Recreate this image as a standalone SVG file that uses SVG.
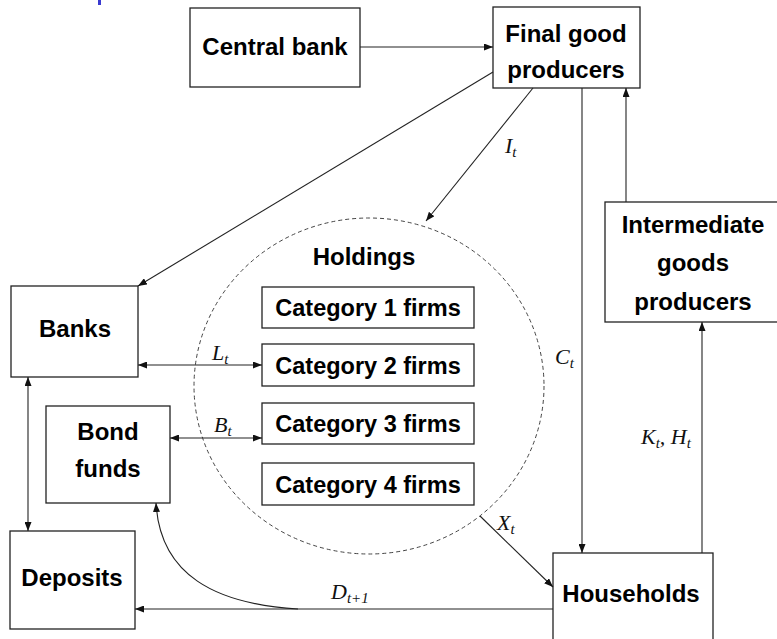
<svg xmlns="http://www.w3.org/2000/svg" width="777" height="639" viewBox="0 0 777 639">
<style>
.box{fill:#fff;stroke:#222;stroke-width:1.3}
.lbl{font-family:"Liberation Sans",Arial,sans-serif;font-weight:bold;font-size:24px;fill:#000;text-anchor:middle}
.cat{font-family:"Liberation Sans",Arial,sans-serif;font-weight:bold;font-size:23.5px;fill:#000;text-anchor:middle}
.math{font-family:"Liberation Serif","Times New Roman",serif;font-style:italic;font-size:22px;fill:#111}
.sub{font-size:15px}
.ln{fill:none;stroke:#222;stroke-width:1.1}
.arr{marker-end:url(#ah)}
.dbl{marker-start:url(#ah);marker-end:url(#ah)}
</style>
<defs>
<marker id="ah" markerUnits="userSpaceOnUse" markerWidth="9" markerHeight="7" refX="9" refY="3.5" orient="auto-start-reverse">
<path d="M0,0 L9,3.5 L0,7 z" fill="#111"/>
</marker>
</defs>
<rect x="98" y="0" width="3" height="5" fill="#3a3ad0"/>
<g id="holdings">
<ellipse cx="369" cy="386" rx="175" ry="168" fill="none" stroke="#444" stroke-width="1" stroke-dasharray="4 3"/>
<text class="lbl" x="364" y="265">Holdings</text>
</g>
<g id="central-bank"><rect class="box" x="190" y="8" width="170" height="79"/><text class="lbl" x="275" y="55">Central bank</text></g>
<g id="final-good"><rect class="box" x="493" y="7" width="147" height="81"/><text class="lbl" x="566" y="42">Final good</text><text class="lbl" x="566" y="78">producers</text></g>
<g id="intermediate"><rect class="box" x="605" y="202" width="176" height="120"/><text class="lbl" x="693" y="233">Intermediate</text><text class="lbl" x="693" y="271">goods</text><text class="lbl" x="693" y="310">producers</text></g>
<g id="banks"><rect class="box" x="11" y="286" width="127" height="91"/><text class="lbl" x="75" y="337">Banks</text></g>
<g id="bond-funds"><rect class="box" x="46" y="406" width="124" height="97"/><text class="lbl" x="108" y="440">Bond</text><text class="lbl" x="108" y="477">funds</text></g>
<g id="deposits"><rect class="box" x="10" y="531" width="125" height="98"/><text class="lbl" x="72" y="586">Deposits</text></g>
<g id="households"><rect class="box" x="553" y="553" width="160" height="95"/><text class="lbl" x="631" y="602">Households</text></g>
<g id="cat1"><rect class="box" x="262" y="287" width="212" height="41"/><text class="cat" x="368" y="316">Category 1 firms</text></g>
<g id="cat2"><rect class="box" x="262" y="344" width="212" height="42"/><text class="cat" x="368" y="374">Category 2 firms</text></g>
<g id="cat3"><rect class="box" x="262" y="403" width="212" height="41"/><text class="cat" x="368" y="432">Category 3 firms</text></g>
<g id="cat4"><rect class="box" x="262" y="463" width="212" height="42"/><text class="cat" x="368" y="493">Category 4 firms</text></g>
<g id="connectors">
<path class="ln arr" d="M360,47 H493"/>
<path class="ln arr" d="M493,72 L138,286"/>
<path class="ln arr" d="M533,88 L426,221"/>
<path class="ln arr" d="M582,88 V553"/>
<path class="ln arr" d="M626,202 V88"/>
<path class="ln arr" d="M702,553 V322"/>
<path class="ln dbl" d="M138,365 H262"/>
<path class="ln dbl" d="M170,438 H262"/>
<path class="ln dbl" d="M28,377 V531"/>
<path class="ln arr" d="M480,516 L553,587"/>
<path class="ln arr" d="M553,609 H135"/>
<path class="ln arr" d="M298,609 C215,604 160,575 156,503"/>
<text class="math" x="505" y="153">I<tspan class="sub" dy="4">t</tspan></text>
<text class="math" x="212" y="360">L<tspan class="sub" dy="4">t</tspan></text>
<text class="math" x="214" y="432">B<tspan class="sub" dy="4">t</tspan></text>
<text class="math" x="555" y="364">C<tspan class="sub" dy="4">t</tspan></text>
<text class="math" x="497" y="530">X<tspan class="sub" dy="4">t</tspan></text>
<text class="math" x="641" y="444">K<tspan class="sub" dy="4">t</tspan><tspan dy="-4">, H</tspan><tspan class="sub" dy="4">t</tspan></text>
<text class="math" x="331" y="599">D<tspan class="sub" dy="4">t+1</tspan></text>
</g>
</svg>
